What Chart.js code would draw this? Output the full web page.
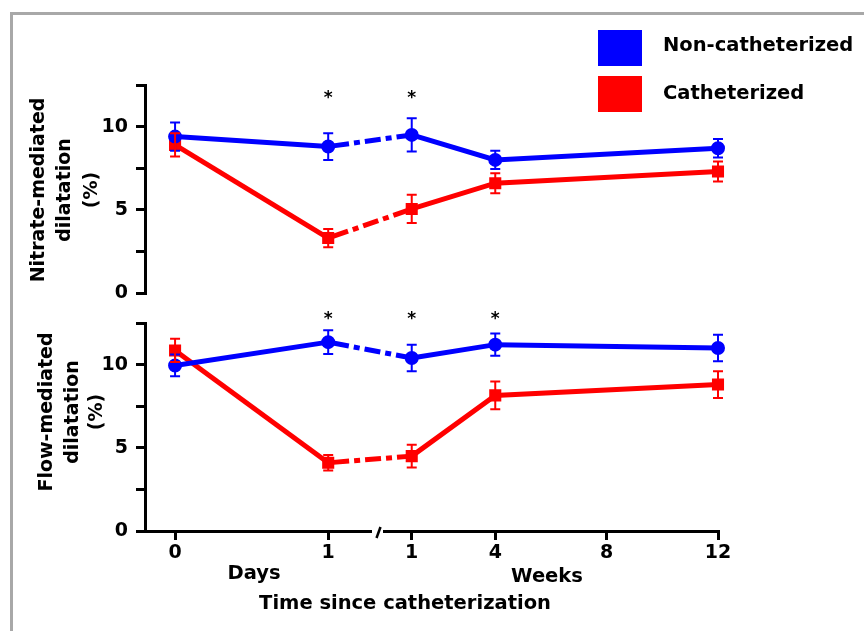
<!DOCTYPE html>
<html>
<head>
<meta charset="utf-8">
<script src="https://cdn.jsdelivr.net/npm/chart.js@4.4.1/dist/chart.umd.min.js"></script>
<style>
  body { margin: 0; background: #fff; }
  #wrap { position: relative; width: 864px; height: 631px; overflow: hidden; }
  #frame { position: absolute; left: 10px; top: 12px; width: 900px; height: 700px; border: 3px solid #a8a8a8; }
  canvas { position: absolute; left: 0; top: 0; }
</style>
</head>
<body>
<div id="wrap">
  <div id="frame"></div>
  <canvas id="nmd" width="864" height="631"></canvas>
  <canvas id="fmd" width="864" height="631"></canvas>
</div>
<script>
// time points: unit ('d' = days, 'w' = weeks) and value
const timeUnits = ['d', 'd', 'w', 'w', 'w'];
const timeValues = [0, 1, 1, 4, 12];
const tickUnits = ['d', 'd', 'w', 'w', 'w', 'w'];
const tickValues = [0, 1, 1, 4, 8, 12];
const tickLabels = ['0', '1', '1', '4', '8', '12'];

const seriesNames = ['Non-catheterized', 'Catheterized'];

// Nitrate-mediated dilatation (%)
const nmdNon = [9.4, 8.8, 9.5, 8.0, 8.7];
const nmdNonErr = [0.85, 0.8, 1.0, 0.55, 0.55];
const nmdCath = [8.9, 3.3, 5.05, 6.6, 7.3];
const nmdCathErr = [0.7, 0.55, 0.85, 0.6, 0.6];
const nmdStars = [1, 2];

// Flow-mediated dilatation (%)
const fmdNon = [9.95, 11.35, 10.4, 11.2, 11.0];
const fmdNonErr = [0.65, 0.72, 0.8, 0.67, 0.8];
const fmdCath = [10.85, 4.1, 4.5, 8.15, 8.8];
const fmdCathErr = [0.7, 0.47, 0.68, 0.83, 0.8];
const fmdStars = [1, 2, 3];

const BLUE = '#0000ff';
const RED = '#ff0000';
const FONT = 'DejaVu Sans';

// broken time axis: days are spread out, weeks continue after the break
function axisPos(unit, v) {
  return unit === 'd' ? v * 5.5 : v + 7.5;
}

Chart.defaults.font.family = FONT;
Chart.defaults.font.weight = 'bold';
Chart.defaults.font.size = 19;
Chart.defaults.color = '#000';

function points(vals) {
  return vals.map((v, i) => ({ x: axisPos(timeUnits[i], timeValues[i]), y: v }));
}

const dashDot = {
  borderDash: ctx => ctx.p0DataIndex === 1 ? [16, 5, 6, 5] : undefined,
  borderDashOffset: ctx => ctx.p0DataIndex === 1 ? 27 : undefined
};

const panelPlugin = {
  id: 'panelExtras',
  afterDatasetsDraw(chart, args, opts) {
    const ctx = chart.ctx;
    const y = chart.scales.y;
    ctx.save();
    // error bars
    chart.data.datasets.forEach((ds, di) => {
      const meta = chart.getDatasetMeta(di);
      ctx.strokeStyle = ds.borderColor;
      ctx.lineWidth = 2;
      meta.data.forEach((pt, i) => {
        const v = ds.data[i].y, e = ds.errors[i];
        const y1 = y.getPixelForValue(v + e), y2 = y.getPixelForValue(v - e);
        ctx.beginPath();
        ctx.moveTo(pt.x, y1); ctx.lineTo(pt.x, y2);
        ctx.moveTo(pt.x - 5, y1); ctx.lineTo(pt.x + 5, y1);
        ctx.moveTo(pt.x - 5, y2); ctx.lineTo(pt.x + 5, y2);
        ctx.stroke();
      });
    });
    // significance stars
    ctx.fillStyle = '#000';
    ctx.font = 'bold 17px ' + FONT;
    ctx.textAlign = 'center';
    ctx.textBaseline = 'alphabetic';
    const x = chart.scales.x;
    opts.stars.forEach(i => {
      const px = x.getPixelForValue(axisPos(timeUnits[i], timeValues[i]));
      ctx.fillText('*', px, chart.chartArea.top + opts.starOffset + 9);
    });
    // rotated y title
    ctx.font = 'bold 19px ' + FONT;
    ctx.textBaseline = 'middle';
    opts.title.forEach((t, i) => {
      ctx.save();
      ctx.translate(opts.titleX[i], opts.titleY);
      ctx.rotate(-Math.PI / 2);
      ctx.fillText(t, 0, 0);
      ctx.restore();
    });
    if (opts.legend) {
      ctx.textAlign = 'left';
      ctx.font = 'bold 19.5px ' + FONT;
      const boxes = [[598, 30, 46], [598, 76, 94]];
      chart.data.datasets.forEach((ds, di) => {
        const b = boxes[di];
        ctx.fillStyle = ds.borderColor;
        ctx.fillRect(b[0], b[1], 44, 36);
        ctx.fillStyle = '#000';
        ctx.fillText(ds.label, 663, b[2]);
      });
    }
    if (opts.timeAxis) {
      // axis break
      const ay = chart.chartArea.bottom;
      ctx.fillStyle = '#fff';
      ctx.fillRect(372, ay - 3, 11, 6);
      ctx.strokeStyle = '#000';
      ctx.lineWidth = 2.5;
      ctx.beginPath();
      ctx.moveTo(376.5, ay + 7); ctx.lineTo(380.5, ay - 4);
      ctx.stroke();
      ctx.fillStyle = '#000';
      ctx.textAlign = 'center';
      ctx.font = 'bold 19.5px ' + FONT;
      ctx.fillText('Days', 254, 574);
      ctx.fillText('Weeks', 547, 577);
      ctx.fillText('Time since catheterization', 405, 604);
    }
    ctx.restore();
  }
};

function makePanel(id, non, nonErr, cath, cathErr, extras, padTop, padBottom, showX) {
  return new Chart(document.getElementById(id), {
    type: 'line',
    data: {
      datasets: [{
        label: seriesNames[0],
        data: points(non),
        errors: nonErr,
        borderColor: BLUE,
        backgroundColor: BLUE,
        borderWidth: 5,
        pointStyle: 'circle',
        pointRadius: 4.5,
        segment: dashDot,
        clip: false
      }, {
        label: seriesNames[1],
        data: points(cath),
        errors: cathErr,
        borderColor: RED,
        backgroundColor: RED,
        borderWidth: 5,
        pointStyle: 'rect',
        pointRadius: 5,
        segment: dashDot,
        clip: false
      }]
    },
    options: {
      responsive: false,
      animation: false,
      layout: { padding: { left: 0, right: 146, top: padTop, bottom: padBottom } },
      plugins: {
        legend: { display: false },
        tooltip: { enabled: false },
        panelExtras: extras
      },
      scales: {
        x: {
          type: 'linear',
          display: showX,
          min: -1.08,
          max: 19.5,
          afterBuildTicks: s => { s.ticks = tickValues.map((v, i) => ({ value: axisPos(tickUnits[i], v) })); },
          afterFit: s => { s.height = showX ? 100 : 0; },
          border: { display: true, color: '#000', width: 3 },
          grid: { drawOnChartArea: false, drawTicks: true, tickLength: 9, color: '#000', lineWidth: 3 },
          ticks: { callback: (v, i) => tickLabels[i], autoSkip: false, maxRotation: 0, padding: 2 }
        },
        y: {
          min: 0,
          max: 12.5,
          afterFit: s => { s.width = 145; },
          border: { display: true, color: '#000', width: 3 },
          grid: { drawOnChartArea: false, drawTicks: true, tickLength: 9, color: '#000', lineWidth: 3 },
          ticks: { stepSize: 2.5, callback: v => (v % 5 === 0 ? v : ''), padding: 8 }
        }
      }
    },
    plugins: [panelPlugin]
  });
}

makePanel('nmd', nmdNon, nmdNonErr, nmdCath, nmdCathErr, {
  stars: nmdStars, starOffset: 8.5,
  title: ['Nitrate-mediated', 'dilatation', '(%)'], titleX: [39, 65, 92], titleY: 190,
  legend: true, timeAxis: false
}, 85, 338, false);

makePanel('fmd', fmdNon, fmdNonErr, fmdCath, fmdCathErr, {
  stars: fmdStars, starOffset: -8,
  title: ['Flow-mediated', 'dilatation', '(%)'], titleX: [47, 73, 97], titleY: 412,
  legend: false, timeAxis: true
}, 323, 0, true);
</script>
</body>
</html>
